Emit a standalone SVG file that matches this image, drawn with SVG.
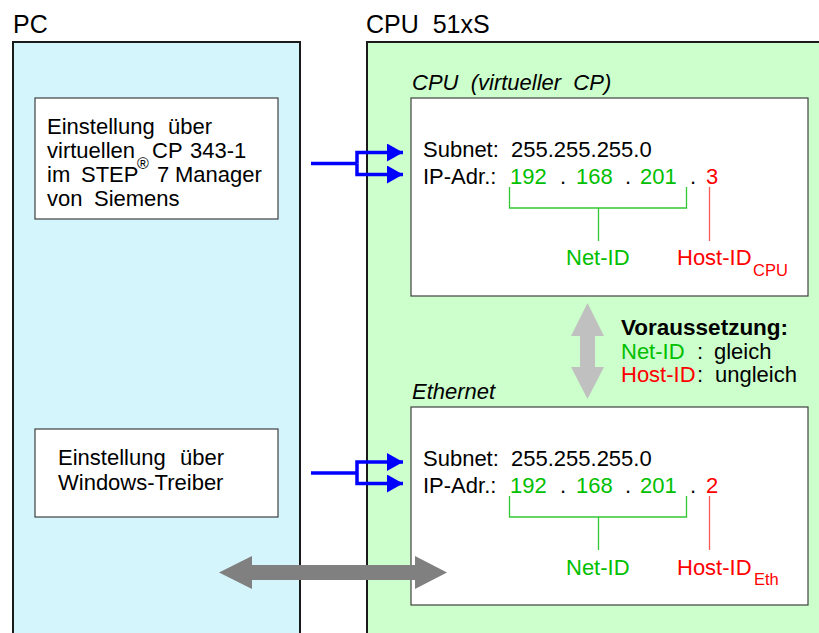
<svg xmlns="http://www.w3.org/2000/svg" width="819" height="633" viewBox="0 0 819 633">
<defs>
<style>
text{font-family:"Liberation Sans",Arial,sans-serif;font-size:22px;fill:#000}
.title{font-size:25px}
.it{font-style:italic}
.b{font-weight:bold}
.g{fill:#00c000}
.r{fill:#ff0000}
.sub{font-size:16.5px}
.outer{stroke:#1a1a1a;stroke-width:2}
.inner{fill:#fff;stroke:#404040;stroke-width:1.2}
.gl{fill:none;stroke:#33c833;stroke-width:1.3}
.rl{fill:none;stroke:#ff5a5a;stroke-width:1.3}
.blue{fill:none;stroke:#0000ff;stroke-width:3.5;stroke-linejoin:miter}
</style>
<marker id="bh" markerUnits="userSpaceOnUse" markerWidth="16" markerHeight="18" refX="16" refY="9" orient="auto">
<path d="M0,0 L16,9 L0,18 z" fill="#0000ff"/>
</marker>
</defs>
<rect width="819" height="633" fill="#fff"/>

<g id="pc">
<text class="title" x="13" y="33">PC</text>
<rect class="outer" x="13" y="42" width="287" height="600" fill="#d4f5fc"/>
</g>

<g id="cpu51xs">
<text class="title" x="366" y="33" style="white-space:pre">CPU  51xS</text>
<rect class="outer" x="367" y="42" width="460" height="600" fill="#ccffcc"/>
</g>

<g id="pc-step7">
<rect class="inner" x="35" y="98" width="243" height="121"/>
<text x="47" y="134">Einstellung<tspan x="168">über</tspan></text>
<text x="47" y="158">virtuellen<tspan x="152">CP</tspan><tspan x="190">343-1</tspan></text>
<text x="137" y="169" style="font-size:16px">®</text>
<text x="47" y="182">im<tspan x="81">STEP</tspan><tspan x="157">7</tspan><tspan x="175">Manager</tspan></text>
<text x="47" y="206">von<tspan x="94">Siemens</tspan></text>
</g>

<g id="pc-windows">
<rect class="inner" x="35" y="429" width="243" height="88"/>
<text x="58" y="465">Einstellung<tspan x="180">über</tspan></text>
<text x="58" y="490">Windows-Treiber</text>
</g>

<g id="cpu-virtual-cp">
<text class="it" x="412" y="90" style="white-space:pre">CPU  (virtueller  CP)</text>
<rect class="inner" x="411" y="98" width="397" height="198"/>
<text x="423" y="157">Subnet:</text>
<text x="511" y="157">255.255.255.0</text>
<text x="423" y="183.5">IP-Adr.:</text>
<text class="g" x="510" y="183.5">192</text>
<text x="560" y="183.5">.</text>
<text class="g" x="576" y="183.5">168</text>
<text x="625" y="183.5">.</text>
<text class="g" x="640" y="183.5">201</text>
<text x="690" y="183.5">.</text>
<text class="r" x="706" y="183.5">3</text>
<path class="gl" d="M509.5,187 V208 H686.5 V187 M598.5,208 V241"/>
<path class="rl" d="M709.5,187 V241"/>
<text class="g" x="566" y="265">Net-ID</text>
<text class="r" x="677" y="265">Host-ID<tspan class="sub" x="753" dy="11">CPU</tspan></text>
</g>

<g id="cpu-ethernet">
<text class="it" x="412" y="399">Ethernet</text>
<rect class="inner" x="411" y="407" width="397" height="198"/>
<text x="423" y="466">Subnet:</text>
<text x="511" y="466">255.255.255.0</text>
<text x="423" y="492.5">IP-Adr.:</text>
<text class="g" x="510" y="492.5">192</text>
<text x="560" y="492.5">.</text>
<text class="g" x="576" y="492.5">168</text>
<text x="625" y="492.5">.</text>
<text class="g" x="640" y="492.5">201</text>
<text x="690" y="492.5">.</text>
<text class="r" x="706" y="492.5">2</text>
<path class="gl" d="M509.5,496 V517 H686.5 V496 M598.5,517 V550"/>
<path class="rl" d="M709.5,496 V550"/>
<text class="g" x="566" y="575">Net-ID</text>
<text class="r" x="677" y="575">Host-ID<tspan class="sub" x="754" dy="10">Eth</tspan></text>
</g>

<g id="voraussetzung">
<text class="b" x="621" y="335" style="font-size:22.5px">Voraussetzung:</text>
<text x="621" y="359"><tspan class="g">Net-ID</tspan><tspan x="697">:</tspan><tspan x="714">gleich</tspan></text>
<text x="621" y="382"><tspan class="r">Host-ID</tspan><tspan x="697">:</tspan><tspan x="715">ungleich</tspan></text>
</g>

<g id="connectors">
<path class="blue" d="M311,163.5 H357"/>
<path class="blue" d="M357,163.5 V152.5 H403" marker-end="url(#bh)"/>
<path class="blue" d="M357,163.5 V174.5 H403" marker-end="url(#bh)"/>
<path class="blue" d="M311,473 H357"/>
<path class="blue" d="M357,473 V462 H403" marker-end="url(#bh)"/>
<path class="blue" d="M357,473 V483.5 H403" marker-end="url(#bh)"/>
<polygon fill="#c0c0c0" points="587.5,303 604,336 595,336 595,367 604,367 587.5,399 571,367 580,367 580,336 571,336"/>
<polygon fill="#808080" points="219,572.5 252,556 252,565 415,565 415,556 447,572.5 415,589 415,580 252,580 252,589"/>
</g>
</svg>
